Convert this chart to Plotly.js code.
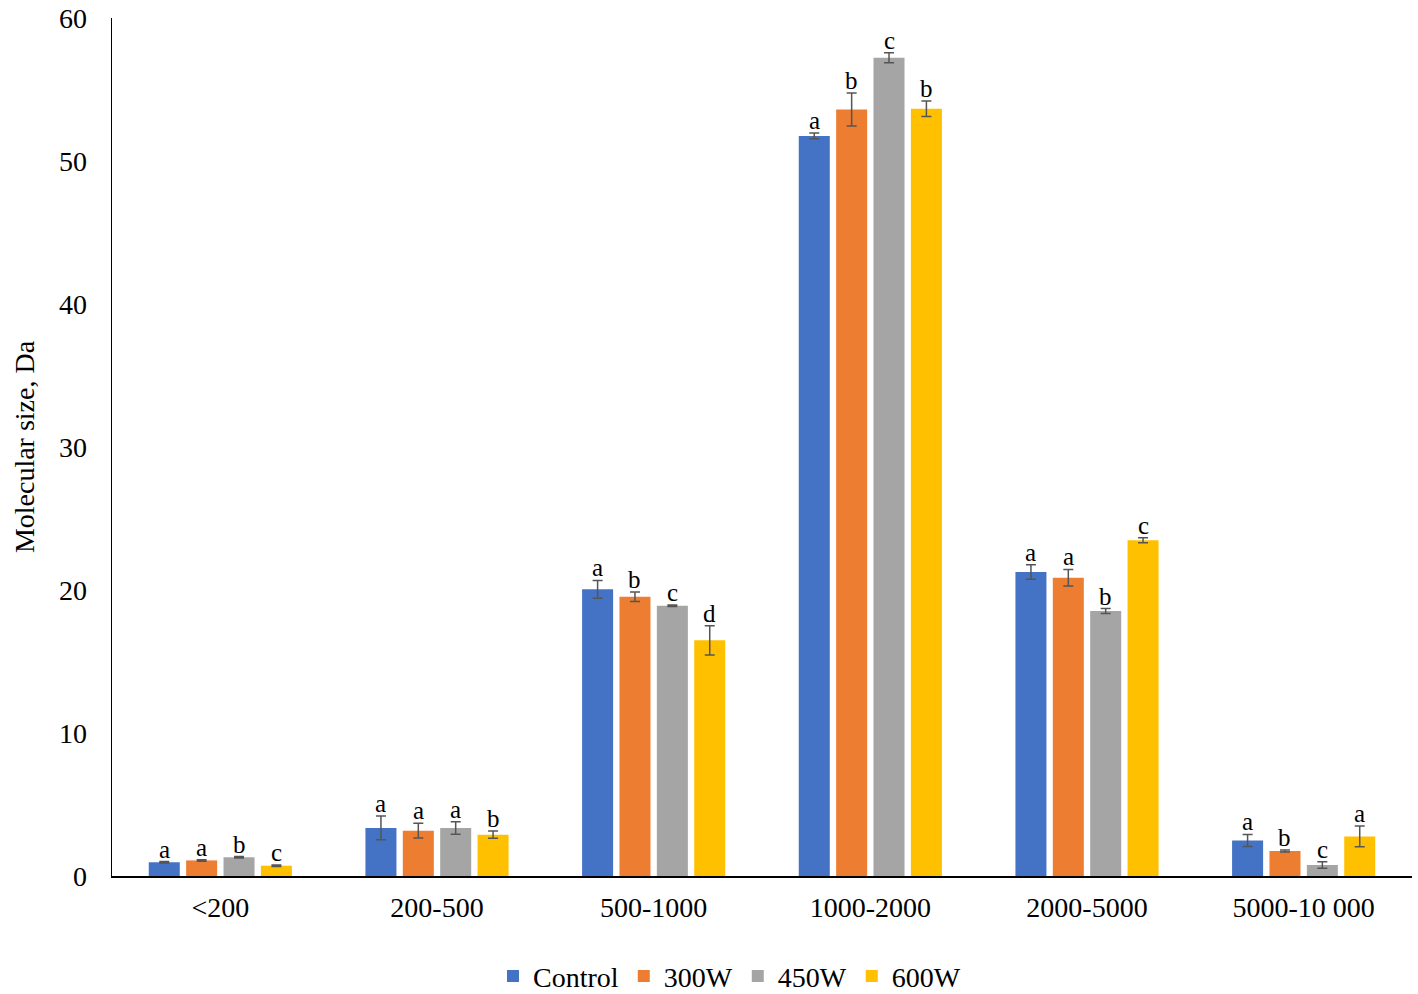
<!DOCTYPE html>
<html>
<head>
<meta charset="utf-8">
<script src="https://cdn.plot.ly/plotly-3.0.1.min.js"></script>
<style>html,body{margin:0;padding:0;background:#fff;}#chart{width:1418px;height:994px;}</style>
</head>
<body>
<div id="chart"></div>
<script>
const categories = ["<200", "200-500", "500-1000", "1000-2000", "2000-5000", "5000-10 000"];
const seriesNames = ["Control", "300W", "450W", "600W"];
const control = [0.96, 3.36, 20.05, 51.75, 21.26, 2.49];
const w300    = [1.09, 3.17, 19.53, 53.60, 20.86, 1.75];
const w450    = [1.31, 3.36, 18.90, 57.22, 18.53, 0.77];
const w600    = [0.72, 2.89, 16.48, 53.66, 23.48, 2.77];
const errControl = [0.05, 0.83, 0.62, 0.20, 0.50, 0.42];
const err300     = [0.05, 0.52, 0.33, 1.15, 0.58, 0.07];
const err450     = [0.05, 0.44, 0.05, 0.35, 0.17, 0.22];
const err600     = [0.05, 0.25, 1.02, 0.54, 0.17, 0.72];
const lettersControl = ["a", "a", "a", "a", "a", "a"];
const letters300     = ["a", "a", "b", "b", "a", "b"];
const letters450     = ["b", "a", "c", "c", "b", "c"];
const letters600     = ["c", "b", "d", "b", "c", "a"];

const colors = ["#4472C4", "#ED7D31", "#A5A5A5", "#FFC000"];
const values = [control, w300, w450, w600];
const errs = [errControl, err300, err450, err600];
const letters = [lettersControl, letters300, letters450, letters600];
const xIdx = categories.map((c, i) => i);
const bargap = 0.31;

const traces = values.map((v, k) => ({
  type: "bar",
  name: seriesNames[k],
  x: xIdx,
  y: v,
  marker: {color: colors[k]},
  error_y: {type: "data", array: errs[k], visible: true, color: "#555555", thickness: 1.5, width: 5}
}));

const annotations = [];
values.forEach((v, k) => {
  v.forEach((val, i) => {
    annotations.push({
      x: i + (k - 1.5) * (1 - bargap) / 4,
      y: val + errs[k][i],
      xref: "x", yref: "y",
      text: letters[k][i],
      showarrow: false,
      yanchor: "bottom",
      yshift: -3,
      font: {family: "Liberation Serif, Times New Roman, serif", size: 25, color: "#000"}
    });
  });
});

const layout = {
  width: 1418, height: 994,
  margin: {l: 112, r: 6, t: 18, b: 118, autoexpand: false},
  paper_bgcolor: "#fff", plot_bgcolor: "#fff",
  font: {family: "Liberation Serif, Times New Roman, serif", size: 28, color: "#000"},
  barmode: "group",
  bargap: bargap,
  bargroupgap: 0.17,
  showlegend: true,
  legend: {orientation: "h", x: 0.475, xanchor: "center", y: -0.117, yanchor: "middle",
           font: {size: 28}, traceorder: "normal", itemwidth: 30},
  xaxis: {
    tickmode: "array", tickvals: xIdx, ticktext: categories,
    range: [-0.5, 5.5],
    showline: true, linecolor: "#000", linewidth: 1.5,
    ticks: "", showgrid: false, zeroline: false,
    tickfont: {size: 28}, ticklabelstandoff: 6
  },
  yaxis: {
    range: [0, 60], dtick: 10,
    showline: true, linecolor: "#000", linewidth: 1.5,
    ticks: "", showgrid: false, zeroline: false,
    tickfont: {size: 28}, ticklabelstandoff: 18,
    title: {text: "Molecular size, Da", font: {size: 28}, standoff: 16}
  },
  annotations: annotations
};

Plotly.newPlot("chart", traces, layout, {displayModeBar: false, staticPlot: true});
</script>
</body>
</html>
